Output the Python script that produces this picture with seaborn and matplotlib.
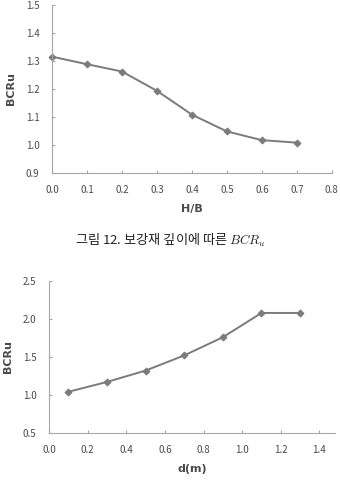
import numpy as np
import matplotlib
matplotlib.use("Agg")
import matplotlib.pyplot as plt
import pandas as pd
import seaborn as sns

sns.set_style("ticks")
plt.rcParams['font.family'] = ['Noto Sans CJK KR', 'DejaVu Sans']
plt.rcParams['mathtext.fontset'] = 'cm'

# 보강재 깊이 (H/B) 에 따른 BCRu
hb = [0.0, 0.1, 0.2, 0.3, 0.4, 0.5, 0.6, 0.7]
bcru_hb = [1.315, 1.288, 1.262, 1.193, 1.108, 1.048, 1.017, 1.008]
hb_ticks = [0.0, 0.1, 0.2, 0.3, 0.4, 0.5, 0.6, 0.7, 0.8]
hb_yticks = [0.9, 1.0, 1.1, 1.2, 1.3, 1.4, 1.5]

# d(m) 에 따른 BCRu
d = [0.1, 0.3, 0.5, 0.7, 0.9, 1.1, 1.3]
bcru_d = [1.04, 1.17, 1.32, 1.52, 1.76, 2.08, 2.08]
d_ticks = [0.0, 0.2, 0.4, 0.6, 0.8, 1.0, 1.2, 1.4]
d_yticks = [0.5, 1.0, 1.5, 2.0, 2.5]

caption = "그림 12. 보강재 깊이에 따른 $BCR_u$"

df1 = pd.DataFrame({'x': hb, 'y': bcru_hb})
df2 = pd.DataFrame({'x': d, 'y': bcru_d})

fig = plt.figure(figsize=(3.4, 4.83), dpi=100)
ax1 = fig.add_axes([0.153, 0.642, 0.823, 0.348])
ax2 = fig.add_axes([0.144, 0.104, 0.841, 0.314])

line_c = '#7b7b7b'
spine_c = '#a6a6a6'
text_c = '#4a4a4a'


def style(ax, xticks, yticks, xlim, ylim, xlabel):
    ax.set_xlim(*xlim)
    ax.set_ylim(*ylim)
    ax.set_xticks(xticks)
    ax.set_yticks(yticks)
    ax.set_xticklabels([f"{v:.1f}" for v in xticks])
    ax.set_yticklabels([f"{v:.1f}" for v in yticks])
    sns.despine(ax=ax)
    for s in ['left', 'bottom']:
        ax.spines[s].set_color(spine_c)
        ax.spines[s].set_linewidth(0.8)
    ax.tick_params(axis='both', colors=spine_c, labelcolor=text_c,
                   labelsize=7, length=2.5, width=0.8, direction='in')
    ax.tick_params(axis='x', pad=9)
    ax.tick_params(axis='y', pad=9)
    ax.set_xlabel(xlabel, fontsize=8, fontweight='bold', color=text_c,
                  family=['DejaVu Sans'], labelpad=6)
    ax.set_ylabel('BCRu', fontsize=8, fontweight='bold', color=text_c,
                  family=['DejaVu Sans'], labelpad=7)


sns.lineplot(data=df1, x='x', y='y', ax=ax1, color=line_c, linewidth=1.4,
             marker='D', markersize=3.5, markeredgecolor=line_c, clip_on=False)
style(ax1, hb_ticks, hb_yticks, (0.0, 0.8), (0.9, 1.5), 'H/B')

sns.lineplot(data=df2, x='x', y='y', ax=ax2, color=line_c, linewidth=1.4,
             marker='D', markersize=3.5, markeredgecolor=line_c, clip_on=False)
style(ax2, d_ticks, d_yticks, (0.0, 1.48), (0.5, 2.5), 'd(m)')

fig.text(0.5, 1 - 240 / 483, caption, ha='center', va='center',
         fontsize=9.5, color='#222222')

fig.savefig('out.png', dpi=100)
